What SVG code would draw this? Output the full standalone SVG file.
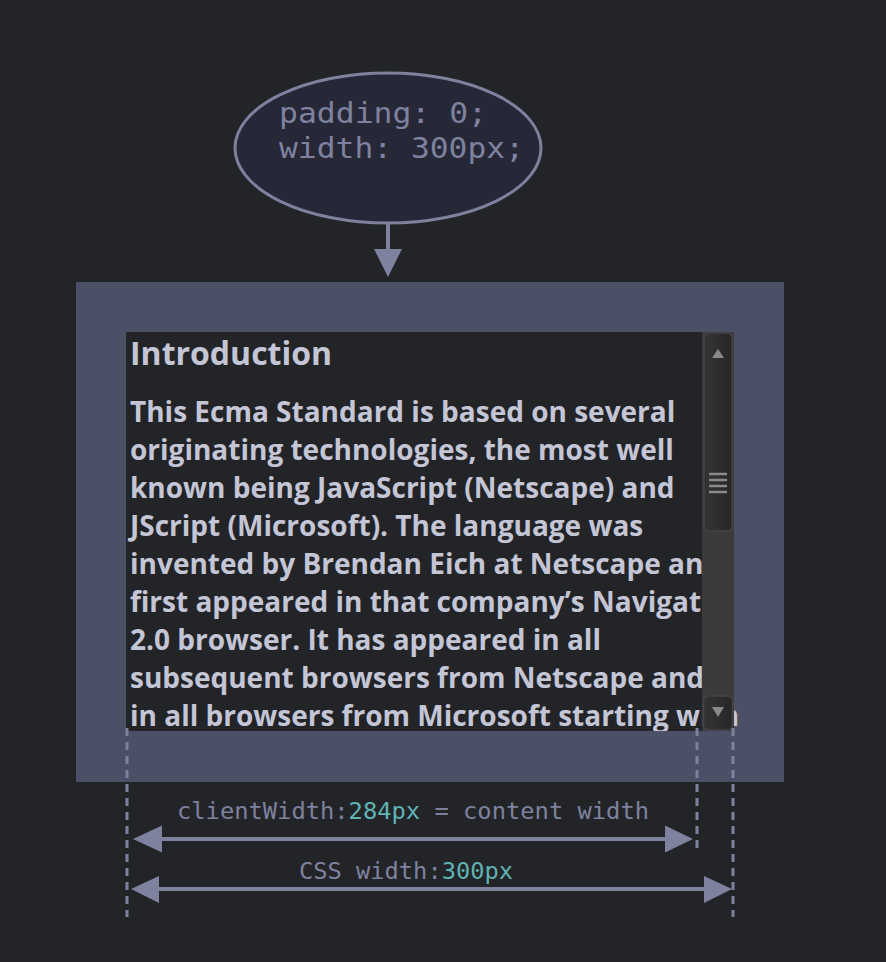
<svg xmlns="http://www.w3.org/2000/svg" width="886" height="962" viewBox="0 0 886 962">
<style>
.mono{font-family:"DejaVu Sans Mono","Liberation Mono",monospace;fill:#7e829e}
.num{fill:#5fb3b3}
.body{font-family:"Open Sans","Liberation Sans",sans-serif;font-weight:700;fill:#c4c5d5}
.line{stroke:#7e829e;stroke-width:4;fill:none}
.dash{stroke:#7e829e;stroke-width:3;stroke-dasharray:8 6;fill:none}
.head{fill:#7e829e}
</style>
<defs>
<clipPath id="clip"><rect x="126" y="332" width="614" height="399"/></clipPath>
<linearGradient id="thumb" x1="0" y1="0" x2="1" y2="0">
<stop offset="0" stop-color="#333333"/><stop offset="0.5" stop-color="#2e2e2e"/><stop offset="1" stop-color="#262626"/>
</linearGradient>
</defs>
<rect width="886" height="962" fill="#232428"/>

<g id="css-node">
<ellipse cx="388" cy="148" rx="153" ry="75" fill="#262838" stroke="#7e829e" stroke-width="3"/>
<text class="mono" x="279" y="123" font-size="29" textLength="208" lengthAdjust="spacingAndGlyphs">padding: 0;</text>
<text class="mono" x="279" y="158" font-size="29" textLength="245" lengthAdjust="spacingAndGlyphs">width: 300px;</text>
</g>

<g id="element-box">
<rect x="76" y="282" width="708" height="500" fill="#4b5066"/>
<rect x="126" y="332" width="608" height="399" fill="#232428"/>
<g clip-path="url(#clip)" class="body">
<text x="130" y="365" font-size="32">Introduction</text>
<text x="130" y="422" font-size="28">This Ecma Standard is based on several</text>
<text x="130" y="460" font-size="28">originating technologies, the most well</text>
<text x="130" y="498" font-size="28">known being JavaScript (Netscape) and</text>
<text x="130" y="536" font-size="28">JScript (Microsoft). The language was</text>
<text x="130" y="574" font-size="28">invented by Brendan Eich at Netscape and</text>
<text x="130" y="612" font-size="28">first appeared in that company’s Navigator</text>
<text x="130" y="650" font-size="28">2.0 browser. It has appeared in all</text>
<text x="130" y="688" font-size="28">subsequent browsers from Netscape and</text>
<text x="130" y="726" font-size="28">in all browsers from Microsoft starting with</text>
</g>
</g>

<g id="scrollbar">
<rect x="702" y="332" width="32" height="399" fill="#3b3b3b"/>
<rect x="704" y="333" width="28" height="198" rx="5" fill="url(#thumb)" stroke="#444444" stroke-width="1.5"/>
<polygon points="718,349 712,358 724,358" fill="#8a8a8a"/>
<g stroke="#8a8a8a" stroke-width="2.5">
<line x1="709" y1="474" x2="727" y2="474"/>
<line x1="709" y1="480" x2="727" y2="480"/>
<line x1="709" y1="486" x2="727" y2="486"/>
<line x1="709" y1="492" x2="727" y2="492"/>
</g>
<rect x="703.5" y="696" width="29" height="34" rx="5" fill="url(#thumb)" stroke="#444444" stroke-width="1.5"/>
<polygon points="718,717 712,707 724,707" fill="#8a8a8a"/>
</g>

<g id="connectors">
<line class="line" x1="388" y1="223" x2="388" y2="252"/>
<polygon class="head" points="374,249 402,249 388,277"/>
<line class="dash" x1="127" y1="728" x2="127" y2="917"/>
<line class="dash" x1="697" y1="728" x2="697" y2="850"/>
<line class="dash" x1="733" y1="728" x2="733" y2="917"/>
<line class="line" x1="158" y1="839" x2="668" y2="839"/>
<polygon class="head" points="133,839 162,825.5 162,852.5"/>
<polygon class="head" points="693,839 665,825.5 665,852.5"/>
<line class="line" x1="156" y1="889" x2="706" y2="889"/>
<polygon class="head" points="131,889 159,876 159,903"/>
<polygon class="head" points="732,889 704,876 704,903"/>
</g>

<g id="labels">
<text class="mono" x="177" y="819" font-size="23" textLength="472" lengthAdjust="spacingAndGlyphs">clientWidth:<tspan class="num">284px</tspan> = content width</text>
<text class="mono" x="299" y="879" font-size="23" textLength="214" lengthAdjust="spacingAndGlyphs">CSS width:<tspan class="num">300px</tspan></text>
</g>
</svg>
